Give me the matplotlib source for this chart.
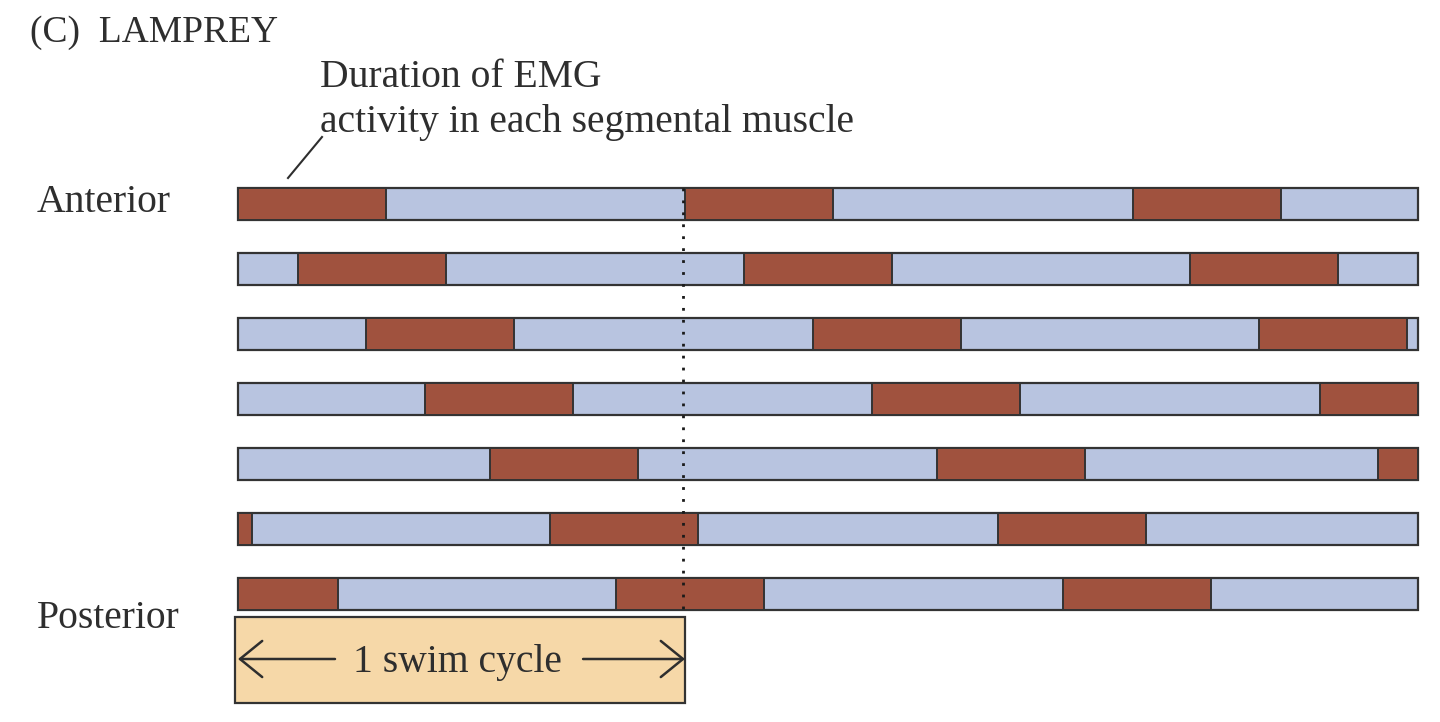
import matplotlib.pyplot as plt
from matplotlib.patches import Rectangle

# onsets of the EMG burst in each segment (in swim cycles), anterior -> posterior
burst_onsets = [
    [0.0, 1.0, 2.002],
    [0.134, 1.132, 2.13],
    [0.286, 1.286, 2.284],
    [0.418, 1.418, 2.42],
    [0.564, 1.564, 2.55],
    [-0.30, 0.698, 1.70],
    [-0.107, 0.846, 1.846],
]
burst_len = 0.331
record_len = 2.64
row_labels = ['Anterior', 'Posterior']

red = '#A0523E'
blue = '#B8C4E0'
edge = '#333333'
tan = '#F6D8A8'
txt = '#2E2E2E'

plt.rcParams['font.family'] = ['Liberation Serif', 'DejaVu Serif']

# pixel layout: cycle = 447 px, bars start at x=238, rows every 65 px from y=204
cyc_px, x0_px, row_px, y0_px = 447, 238, 65, 204
W, H = 1440, 722


def px(x, y):
    return (x - x0_px) / cyc_px, (y - y0_px) / row_px


fig = plt.figure(figsize=(14.4, 7.22), dpi=100)
ax = fig.add_axes([0, 0, 1, 1])
ax.set_xlim(-x0_px / cyc_px, (W - x0_px) / cyc_px)
ax.set_ylim((H - y0_px) / row_px, -y0_px / row_px)
ax.axis('off')

bh = 0.5
for i, onsets in enumerate(burst_onsets):
    ax.add_patch(Rectangle((0, i - bh / 2), record_len, bh, facecolor=blue,
                           edgecolor=edge, lw=1.6, zorder=2))
    for on in onsets:
        a = max(on, 0)
        b = min(on + burst_len, record_len)
        if b <= a:
            continue
        ax.add_patch(Rectangle((a, i - bh / 2), b - a, bh, facecolor=red,
                               edgecolor=edge, lw=1.4, zorder=3))

nrows = len(burst_onsets)

# swim cycle box
box_top = nrows - 1 + 0.35
box_bot = nrows - 1 + 1.68
ax.add_patch(Rectangle((-0.007, box_top), 1.007, box_bot - box_top,
                       facecolor=tan, edgecolor=edge, lw=1.6, zorder=2))
ay = nrows - 1 + 1.0
ax.text(*px(457, 672), '1 swim cycle', ha='center', va='baseline',
        fontsize=28.5, color=txt, zorder=5)
arrow = dict(arrowstyle='->,head_length=1.6,head_width=1.3', color=txt,
             lw=1.8, shrinkA=0, shrinkB=0, mutation_scale=10)
ax.annotate('', xy=(0.0, ay), xytext=(0.217, ay), arrowprops=arrow, zorder=5)
ax.annotate('', xy=(1.0, ay), xytext=(0.772, ay), arrowprops=arrow, zorder=5)

# dotted reference line at one cycle
ax.plot([0.996, 0.996], [-bh / 2, box_top], color='#1A1A1A', lw=2.0,
        linestyle=(0, (1, 3.3)), zorder=4)

# labels
ax.text(*px(37, 212), row_labels[0], ha='left', va='baseline', fontsize=28.5,
        color=txt)
ax.text(*px(37, 628), row_labels[1], ha='left', va='baseline', fontsize=28.5,
        color=txt)
ax.text(*px(30, 42), '(C)  LAMPREY', ha='left', va='baseline', fontsize=27,
        color=txt)
ax.text(*px(320, 87), 'Duration of EMG', ha='left', va='baseline',
        fontsize=28.5, color=txt)
ax.text(*px(320, 132), 'activity in each segmental muscle', ha='left',
        va='baseline', fontsize=28.5, color=txt)
lx0, ly0 = px(322, 137)
lx1, ly1 = px(288, 178)
ax.plot([lx0, lx1], [ly0, ly1], color=txt, lw=1.5)

fig.savefig('out.png', dpi=100, facecolor='white')
